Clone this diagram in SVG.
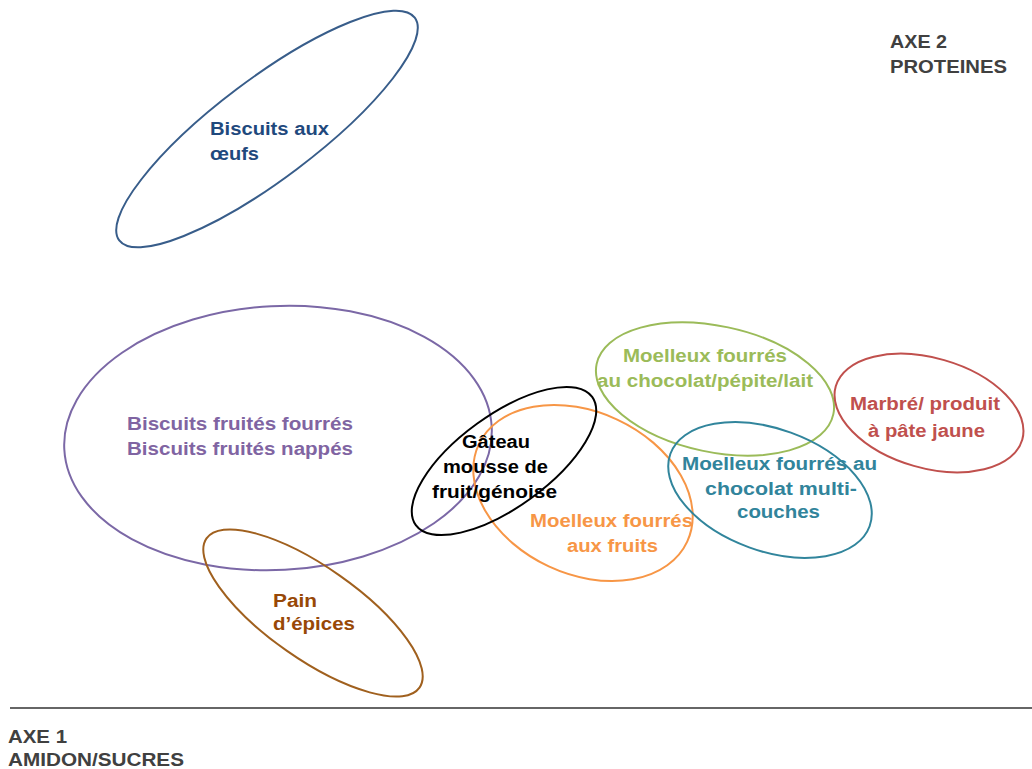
<svg xmlns="http://www.w3.org/2000/svg" width="1032" height="769" viewBox="0 0 1032 769">
  <style>
    .shape { fill: none; stroke-width: 2; }
    .label { font-family: "Liberation Sans", Arial, sans-serif; font-weight: bold; font-size: 18px; }
    .axis { font-family: "Liberation Sans Narrow", "Liberation Sans", Arial, sans-serif; font-weight: bold; fill: #404040; }
  </style>
  <rect x="0" y="0" width="1032" height="769" fill="#ffffff"/>

  <!-- horizontal axis -->
  <g id="connectors">
    <line x1="10" y1="708" x2="1032" y2="708" stroke="#333333" stroke-width="1.5"/>
  </g>

  <g id="biscuits-oeufs">
    <ellipse class="shape" cx="267" cy="129" rx="185" ry="50" transform="rotate(-37 267 129)" stroke="#385D8A"/>
    <text class="label" fill="#1F497D"><tspan x="210" y="135" textLength="119" lengthAdjust="spacingAndGlyphs">Biscuits aux</tspan><tspan x="210" y="160" textLength="49" lengthAdjust="spacingAndGlyphs">œufs</tspan></text>
  </g>

  <g id="biscuits-fruites">
    <ellipse class="shape" cx="278" cy="438" rx="214" ry="132" transform="rotate(-3 278 438)" stroke="#7B68A6"/>
    <text class="label" fill="#8064A2"><tspan x="127" y="430" textLength="226" lengthAdjust="spacingAndGlyphs">Biscuits fruités fourrés</tspan><tspan x="127" y="455" textLength="226" lengthAdjust="spacingAndGlyphs">Biscuits fruités nappés</tspan></text>
  </g>

  <g id="pain-epices">
    <ellipse class="shape" cx="313" cy="613" rx="130" ry="46" transform="rotate(35 313 613)" stroke="#A0601E"/>
    <text class="label" fill="#984806"><tspan x="273" y="607" textLength="44" lengthAdjust="spacingAndGlyphs">Pain</tspan><tspan x="273" y="630" textLength="82" lengthAdjust="spacingAndGlyphs">d’épices</tspan></text>
  </g>

  <g id="moelleux-fruits">
    <ellipse class="shape" cx="583" cy="493" rx="115" ry="81" transform="rotate(25 583 493)" stroke="#F79646"/>
    <text class="label" fill="#F79646"><tspan x="530" y="527" textLength="163" lengthAdjust="spacingAndGlyphs">Moelleux fourrés</tspan><tspan x="567" y="552" textLength="91" lengthAdjust="spacingAndGlyphs">aux fruits</tspan></text>
  </g>

  <g id="gateau-mousse">
    <ellipse class="shape" cx="504" cy="461" rx="109" ry="46" transform="rotate(-36 504 461)" stroke="#000000"/>
    <text class="label" fill="#000000"><tspan x="462" y="448" textLength="68" lengthAdjust="spacingAndGlyphs">Gâteau</tspan><tspan x="443" y="473" textLength="105" lengthAdjust="spacingAndGlyphs">mousse de</tspan><tspan x="432" y="498" textLength="125" lengthAdjust="spacingAndGlyphs">fruit/génoise</tspan></text>
  </g>

  <g id="moelleux-chocolat-lait">
    <ellipse class="shape" cx="715" cy="389" rx="121" ry="63" transform="rotate(12 715 389)" stroke="#9BBB59"/>
    <text class="label" fill="#9BBB59"><tspan x="623" y="362" textLength="164" lengthAdjust="spacingAndGlyphs">Moelleux fourrés</tspan><tspan x="597" y="387" textLength="216" lengthAdjust="spacingAndGlyphs">au chocolat/pépite/lait</tspan></text>
  </g>

  <g id="moelleux-multicouches">
    <ellipse class="shape" cx="770" cy="490" rx="106" ry="61" transform="rotate(20 770 490)" stroke="#31859C"/>
    <text class="label" fill="#31849B"><tspan x="682" y="470" textLength="195" lengthAdjust="spacingAndGlyphs">Moelleux fourrés au</tspan><tspan x="705" y="495" textLength="152" lengthAdjust="spacingAndGlyphs">chocolat multi-</tspan><tspan x="737" y="518" textLength="83" lengthAdjust="spacingAndGlyphs">couches</tspan></text>
  </g>

  <g id="marbre">
    <ellipse class="shape" cx="929" cy="413" rx="97" ry="55" transform="rotate(16 929 413)" stroke="#C0504D"/>
    <text class="label" fill="#C0504D"><tspan x="850" y="410" textLength="150" lengthAdjust="spacingAndGlyphs">Marbré/ produit</tspan><tspan x="868" y="437" textLength="117" lengthAdjust="spacingAndGlyphs">à pâte jaune</tspan></text>
  </g>

  <g id="axe-2">
    <text class="axis" font-size="19"><tspan x="890" y="48" textLength="57" lengthAdjust="spacingAndGlyphs">AXE 2</tspan><tspan x="890" y="73" textLength="117" lengthAdjust="spacingAndGlyphs">PROTEINES</tspan></text>
  </g>

  <g id="axe-1">
    <text class="axis" font-size="19"><tspan x="8" y="743" textLength="59" lengthAdjust="spacingAndGlyphs">AXE 1</tspan><tspan x="8" y="766" textLength="176" lengthAdjust="spacingAndGlyphs">AMIDON/SUCRES</tspan></text>
  </g>
</svg>
